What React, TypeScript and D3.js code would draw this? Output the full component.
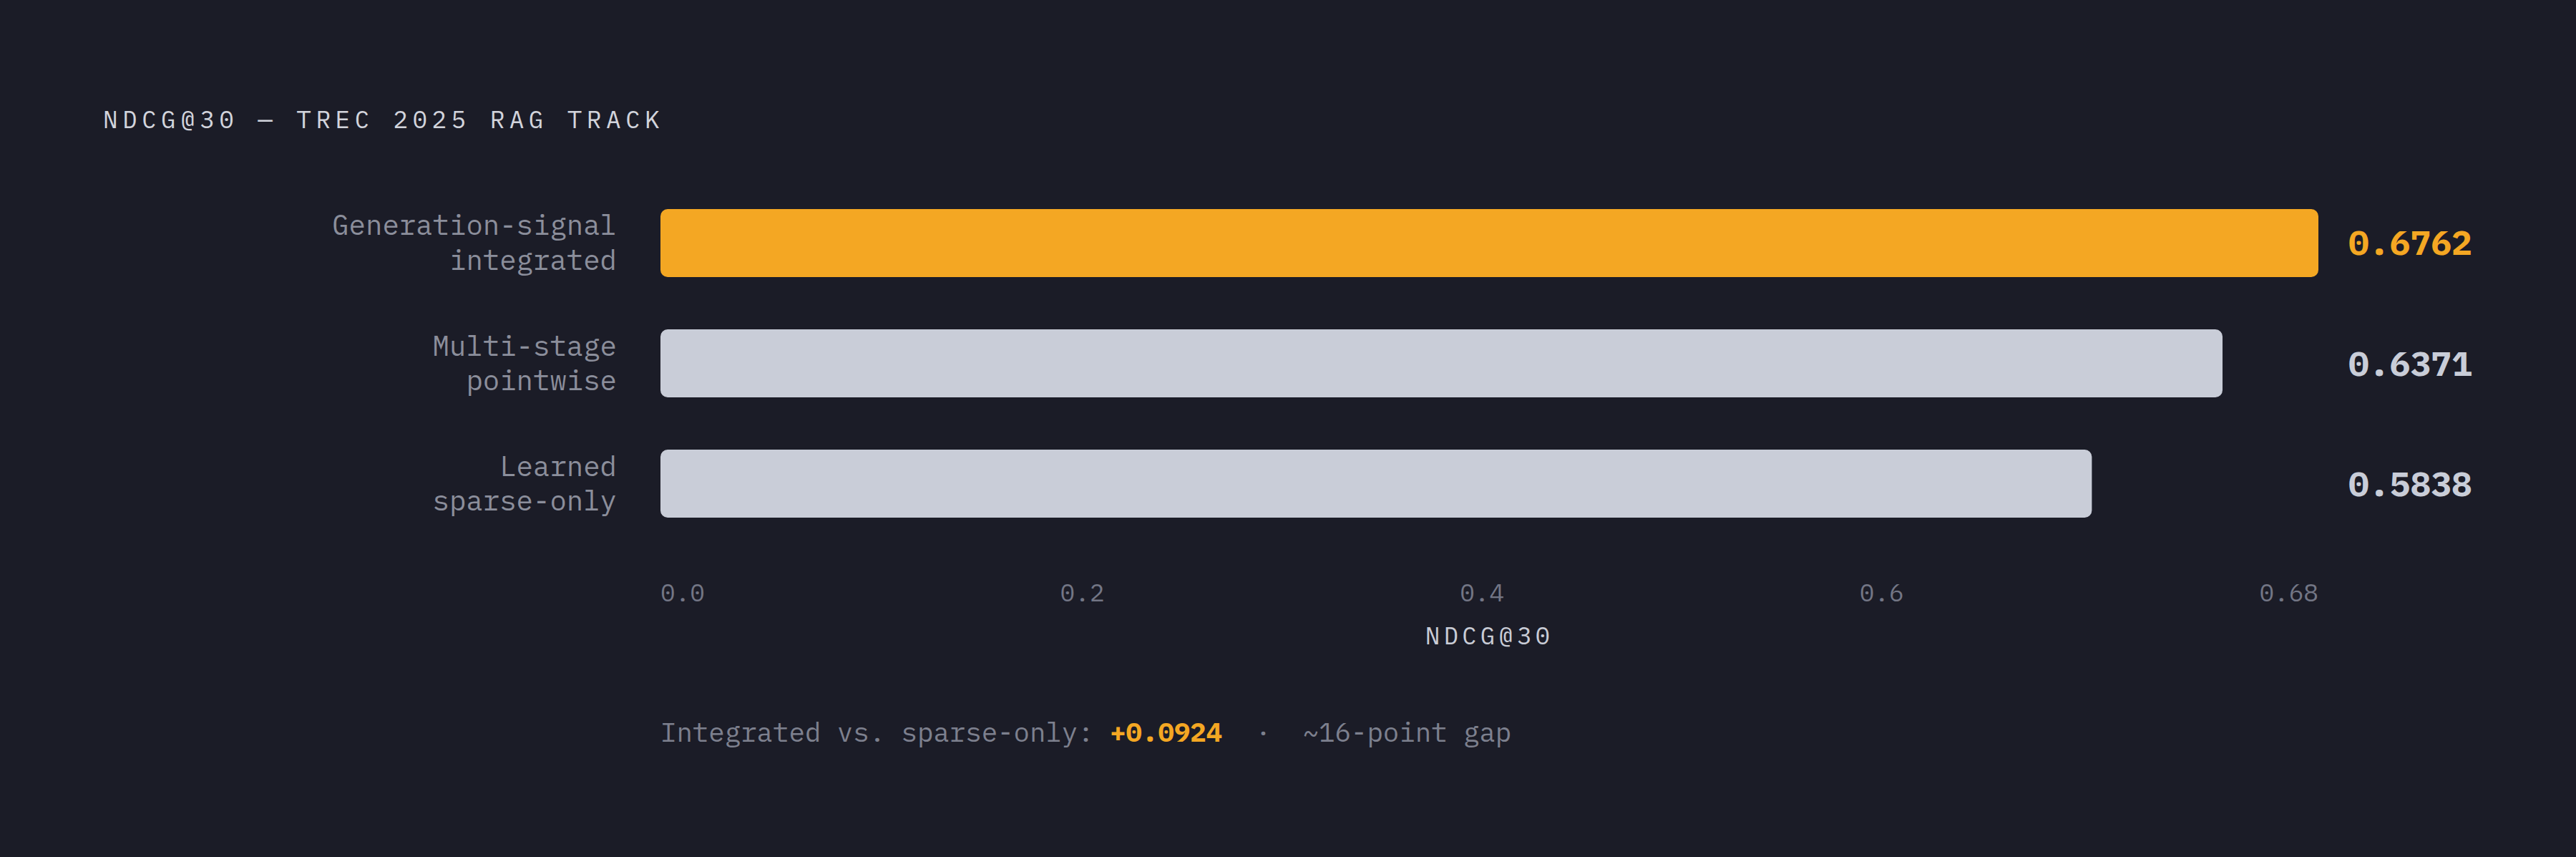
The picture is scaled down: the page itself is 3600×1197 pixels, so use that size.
import React, { useEffect, useRef } from 'react';
import * as d3 from 'd3';

const W = 3600;
const H = 1197;
const FONT = '"IBM Plex Mono", "DejaVu Sans Mono", monospace';

const chartTitle = 'NDCG@30 — TREC 2025 RAG TRACK';
const categories = ['gen', 'multi', 'sparse'];
const categoryLines = [
  ['Generation-signal', 'integrated'],
  ['Multi-stage', 'pointwise'],
  ['Learned', 'sparse-only'],
];
const scores = [0.6762, 0.6371, 0.5838];
const highlighted = [true, false, false];
const tickLabels = ['0.0', '0.2', '0.4', '0.6', '0.68'];
const axisTitle = 'NDCG@30';
const footerLead = 'Integrated vs. sparse-only: ';
const footerDelta = '+0.0924';
const footerTail = '~16-point gap';

const BG = '#1b1c27';
const ORANGE = '#f4a723';
const BAR_GREY = '#c9cdd8';
const LABEL_GREY = '#8b8e9b';
const TICK_GREY = '#737685';

export default function App() {
  const svgRef = useRef<SVGSVGElement>(null);

  useEffect(() => {
    if (!svgRef.current) return;
    const svg = d3.select(svgRef.current);
    svg.selectAll('*').remove();

    const x = d3.scaleLinear().domain([0, d3.max(scores) ?? 1]).range([923, 3240]);
    const y = d3.scaleBand().domain(categories).range([292, 723]).paddingInner(0.435).paddingOuter(0);

    svg.append('rect').attr('width', W).attr('height', H).attr('fill', BG);

    // title
    svg.append('text')
      .attr('x', 144)
      .attr('y', 179)
      .attr('fill', '#d2d4dc')
      .attr('font-family', FONT)
      .attr('font-size', 34.4)
      .attr('letter-spacing', 6.4)
      .text(chartTitle);

    categories.forEach((c, i) => {
      const y0 = y(c) ?? 0;
      const cy = y0 + y.bandwidth() / 2;

      svg.append('rect')
        .attr('x', x(0))
        .attr('y', y0)
        .attr('width', x(scores[i]) - x(0))
        .attr('height', y.bandwidth())
        .attr('rx', 10)
        .attr('fill', highlighted[i] ? ORANGE : BAR_GREY);

      // category label, two lines, right aligned
      const lab = svg.append('text')
        .attr('text-anchor', 'end')
        .attr('fill', LABEL_GREY)
        .attr('font-family', FONT)
        .attr('font-size', 39);
      categoryLines[i].forEach((line, j) => {
        lab.append('tspan')
          .attr('x', 862)
          .attr('y', cy - 11 + j * 48.5)
          .text(line);
      });

      svg.append('text')
        .attr('x', 3282)
        .attr('y', cy + 17)
        .attr('fill', highlighted[i] ? ORANGE : BAR_GREY)
        .attr('font-family', FONT)
        .attr('font-size', 48)
        .attr('font-weight', 700)
        .text(scores[i].toFixed(4));
    });

    // tick labels spread edge to edge across the track
    const [r0, r1] = x.range();
    const ticks = svg.append('g')
      .attr('fill', TICK_GREY)
      .attr('font-family', FONT)
      .attr('font-size', 34.4);
    const tickNodes = tickLabels.map((t) => ticks.append('text').attr('y', 840).text(t));
    const widths = tickNodes.map((n) => (n.node() as SVGTextElement).getComputedTextLength());
    const gap = (r1 - r0 - d3.sum(widths)) / (tickLabels.length - 1);
    let cursor = r0;
    tickNodes.forEach((n, i) => {
      n.attr('x', cursor);
      cursor += widths[i] + gap;
    });

    svg.append('text')
      .attr('x', (r0 + r1) / 2)
      .attr('y', 900)
      .attr('text-anchor', 'middle')
      .attr('fill', '#c9ccd6')
      .attr('font-family', FONT)
      .attr('font-size', 34.4)
      .attr('letter-spacing', 5)
      .text(axisTitle);

    // footer note
    const foot = svg.append('text')
      .attr('x', r0)
      .attr('y', 1036)
      .attr('fill', '#7d808e')
      .attr('font-family', FONT)
      .attr('font-size', 37.4);
    foot.append('tspan').attr('xml:space', 'preserve').text(footerLead);
    foot.append('tspan').attr('fill', ORANGE).attr('font-weight', 700).text(footerDelta);
    foot.append('tspan').attr('dx', 46).text('·');
    foot.append('tspan').attr('dx', 44).text(footerTail);
  }, []);

  return (
    <svg
      ref={svgRef}
      width={W}
      height={H}
      style={{ position: 'absolute', left: 0, top: 0, display: 'block' }}
    />
  );
}
